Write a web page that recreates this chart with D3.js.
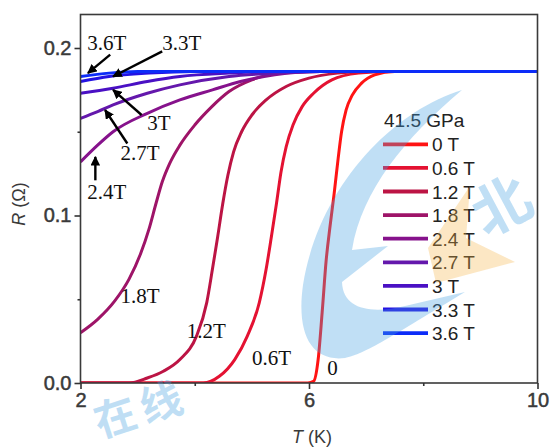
<!DOCTYPE html>
<html>
<head>
<meta charset="utf-8">
<script src="https://cdn.jsdelivr.net/npm/d3@7"></script>
<style>
  html, body { margin: 0; padding: 0; background: #fff; }
  svg { display: block; }
</style>
</head>
<body>
<svg id="chart" width="550" height="448"></svg>
<script>
// R(T) curves at 41.5 GPa for several magnetic fields: [T (K), R (Ω)]
const r0T = [[2,0],[5.98,0],[6.08,0.001],[6.16,0.014],[6.23,0.042],[6.30,0.073],[6.37,0.094],[6.44,0.113],[6.51,0.134],[6.57,0.150],[6.65,0.163],[6.76,0.172],[6.92,0.179],[7.15,0.184],[7.5,0.186],[8.05,0.186]];
const r06T = [[2,0],[4.15,0],[4.43,0.004],[4.70,0.014],[4.92,0.028],[5.13,0.048],[5.25,0.068],[5.34,0.087],[5.43,0.107],[5.51,0.126],[5.60,0.141],[5.72,0.154],[5.88,0.165],[6.08,0.173],[6.40,0.181],[6.87,0.185],[7.4,0.186],[8.05,0.186]];
const r12T = [[2,0],[2.85,0],[3.17,0.003],[3.45,0.007],[3.74,0.014],[4.03,0.028],[4.21,0.048],[4.31,0.068],[4.40,0.087],[4.49,0.107],[4.58,0.124],[4.68,0.138],[4.82,0.150],[5.0,0.160],[5.25,0.169],[5.6,0.177],[6.0,0.182],[6.5,0.185],[7.0,0.186],[8.05,0.186]];
const r18T = [[2,0.030],[2.3,0.038],[2.6,0.049],[2.85,0.062],[3.05,0.077],[3.2,0.092],[3.32,0.107],[3.43,0.120],[3.56,0.131],[3.74,0.142],[4.0,0.154],[4.3,0.165],[4.6,0.174],[5.0,0.181],[5.5,0.185],[6.2,0.186],[8.05,0.186]];
const r24T = [[2,0.132],[2.30,0.142],[2.57,0.150],[3.17,0.161],[3.74,0.169],[4.31,0.175],[4.8,0.180],[5.4,0.184],[6.2,0.186],[8.05,0.186]];
const r27T = [[2,0.158],[2.30,0.162],[2.57,0.166],[3.17,0.173],[3.74,0.178],[4.6,0.183],[5.4,0.185],[6.2,0.186],[8.05,0.186]];
const r3T = [[2,0.173],[2.57,0.176],[3.17,0.180],[3.74,0.183],[4.6,0.185],[5.4,0.186],[8.05,0.186]];
const r33T = [[2,0.180],[2.5,0.183],[3.2,0.185],[4.0,0.186],[10,0.186]];
const r36T = [[2,0.183],[2.5,0.185],[3.0,0.186],[10,0.186]];

const fieldLabels = ["0 T","0.6 T","1.2 T","1.8 T","2.4 T","2.7 T","3 T","3.3 T","3.6 T"];
const curveColors = ["#ff1414","#e41232","#bc1444","#9e1468","#86128c","#6418ac","#4a10c4","#2412e2","#0c2cf8"];
const legendTitle = "41.5 GPa";

const xTicks = [2, 6, 10];
const xMinorTicks = [4, 8];
const yTicks = [0.0, 0.1, 0.2];
const yMinorTicks = [0.05, 0.15];

// in-plot annotations: label, anchor [T, R]
const notes = [
  ["3.6T", [2.12, 0.199]], ["3.3T", [3.43, 0.199]], ["3T", [3.17, 0.151]],
  ["2.7T", [2.70, 0.133]], ["2.4T", [2.12, 0.110]], ["1.8T", [2.70, 0.048]],
  ["1.2T", [3.86, 0.027]], ["0.6T", [5.0, 0.011]], ["0", [6.32, 0.005]]
];
// arrows: from [T, R] to [T, R]
const arrows = [
  [[2.52, 0.196], [2.13, 0.185]],
  [[3.43, 0.198], [2.57, 0.183]],
  [[3.07, 0.160], [2.57, 0.175]],
  [[2.82, 0.143], [2.43, 0.163]],
  [[2.26, 0.121], [2.26, 0.135]]
];

const series = [r0T, r06T, r12T, r18T, r24T, r27T, r3T, r33T, r36T];

const svg = d3.select("#chart");
const m = { left: 80.5, right: 537.5, top: 14.5, bottom: 383 };

const x = d3.scaleLinear().domain([2, 10]).range([m.left, m.right]);
const y = d3.scaleLinear().domain([0, 0.22]).range([m.bottom, m.top]);

const defs = svg.append("defs");
defs.append("clipPath").attr("id", "clip")
  .append("rect").attr("x", m.left).attr("y", m.top)
  .attr("width", m.right - m.left).attr("height", m.bottom - m.top);
defs.append("marker")
  .attr("id", "head").attr("viewBox", "0 0 10 10")
  .attr("refX", 9).attr("refY", 5)
  .attr("markerWidth", 4).attr("markerHeight", 4)
  .attr("orient", "auto")
  .append("path").attr("d", "M0,0 L10,5 L0,10 Z").attr("fill", "#000");

const plot = svg.append("g");

const line = d3.line().x(d => x(d[0])).y(d => y(d[1])).curve(d3.curveMonotoneX);

plot.append("g").attr("clip-path", "url(#clip)")
  .selectAll("path").data(series).join("path")
  .attr("d", line)
  .attr("fill", "none")
  .attr("stroke", (d, i) => curveColors[i])
  .attr("stroke-width", 3)
  .attr("stroke-linejoin", "round");

// frame
plot.append("rect")
  .attr("x", m.left).attr("y", m.top)
  .attr("width", m.right - m.left).attr("height", m.bottom - m.top)
  .attr("fill", "none").attr("stroke", "#3a3a3a").attr("stroke-width", 1.6);

// axes
const axisColor = "#333";
const labelFont = "Liberation Sans, Arial, sans-serif";
const xAxis = d3.axisBottom(x).tickValues(xTicks).tickSize(6).tickPadding(4).tickFormat(d3.format("d"));
const gx = plot.append("g").attr("transform", `translate(0,${m.bottom})`).call(xAxis);
gx.select(".domain").remove();
gx.selectAll("line").attr("stroke", axisColor).attr("stroke-width", 1.6);
gx.selectAll("text").attr("font-family", labelFont)
  .attr("font-size", 20).attr("fill", "#3a3a3a").attr("stroke", "#3a3a3a").attr("stroke-width", 0.5);

const gxm = plot.append("g").attr("transform", `translate(0,${m.bottom})`)
  .call(d3.axisBottom(x).tickValues(xMinorTicks).tickSize(3).tickFormat(""));
gxm.select(".domain").remove();
gxm.selectAll("line").attr("stroke", axisColor).attr("stroke-width", 1.6);

const yAxis = d3.axisLeft(y).tickValues(yTicks).tickSize(6).tickPadding(3).tickFormat(d3.format(".1f"));
const gy = plot.append("g").attr("transform", `translate(${m.left},0)`).call(yAxis);
gy.select(".domain").remove();
gy.selectAll("line").attr("stroke", axisColor).attr("stroke-width", 1.6);
gy.selectAll("text").attr("font-family", labelFont)
  .attr("font-size", 20).attr("fill", "#3a3a3a").attr("stroke", "#3a3a3a").attr("stroke-width", 0.5);

const gym = plot.append("g").attr("transform", `translate(${m.left},0)`)
  .call(d3.axisLeft(y).tickValues(yMinorTicks).tickSize(3).tickFormat(""));
gym.select(".domain").remove();
gym.selectAll("line").attr("stroke", axisColor).attr("stroke-width", 1.6);

// axis titles
const yt = svg.append("text")
  .attr("transform", `translate(25,204) rotate(-90)`)
  .attr("text-anchor", "middle")
  .attr("font-family", labelFont)
  .attr("font-size", 18).attr("fill", "#3a3a3a");
yt.append("tspan").attr("font-style", "italic").text("R");
yt.append("tspan").text(" (Ω)");

const xt = svg.append("text")
  .attr("x", 312).attr("y", 443)
  .attr("text-anchor", "middle")
  .attr("font-family", labelFont)
  .attr("font-size", 18).attr("fill", "#3a3a3a");
xt.append("tspan").attr("font-style", "italic").text("T");
xt.append("tspan").text(" (K)");

// annotations
svg.append("g").selectAll("text").data(notes).join("text")
  .attr("x", d => x(d[1][0])).attr("y", d => y(d[1][1]))
  .attr("font-family", "Liberation Serif, 'Times New Roman', serif")
  .attr("font-size", 21).attr("fill", "#111")
  .text(d => d[0]);

svg.append("g").selectAll("line").data(arrows).join("line")
  .attr("x1", d => x(d[0][0])).attr("y1", d => y(d[0][1]))
  .attr("x2", d => x(d[1][0])).attr("y2", d => y(d[1][1]))
  .attr("stroke", "#000").attr("stroke-width", 2.4)
  .attr("marker-end", "url(#head)");

// legend
const lg = svg.append("g").attr("transform", "translate(383,0)");
lg.append("text").attr("x", 1).attr("y", 127)
  .attr("font-family", labelFont)
  .attr("font-size", 19).attr("fill", "#222").text(legendTitle);
const rows = lg.selectAll("g.row").data(fieldLabels).join("g")
  .attr("class", "row")
  .attr("transform", (d, i) => `translate(0,${144.3 + i * 23.6})`);
rows.append("line").attr("x1", 0).attr("x2", 45).attr("y1", 0).attr("y2", 0)
  .attr("stroke", (d, i) => curveColors[i]).attr("stroke-width", 3.8);
rows.append("text").attr("x", 49).attr("y", 7)
  .attr("font-family", labelFont)
  .attr("font-size", 19).attr("fill", "#222").text(d => d);

// site watermark overlay
const wm = svg.append("g").attr("pointer-events", "none");
wm.append("path")
  .attr("d", "M462,90 C390,112 318,190 303,285 C296,335 312,362 345,358 C365,354 392,336 465,292 L405,306 C372,314 343,310 342,282 L388,246 L352,250 C362,190 405,138 462,90 Z")
  .attr("fill", "rgba(70,160,225,0.34)");
wm.append("path")
  .attr("d", "M470,186 L428,248 L436,283 L515,262 L466,238 Z")
  .attr("fill", "rgba(245,180,70,0.32)");
wm.append("text").attr("transform", "translate(100,438) rotate(-18)")
  .attr("font-family", "Noto Sans CJK SC, sans-serif").attr("font-weight", "bold")
  .attr("font-size", 42).attr("letter-spacing", 6).attr("fill", "rgba(70,160,225,0.34)").text("在线");
wm.append("text").attr("transform", "translate(486,238) rotate(-28)")
  .attr("font-family", "Noto Sans CJK SC, sans-serif").attr("font-weight", "bold")
  .attr("font-size", 58).attr("fill", "rgba(70,160,225,0.34)").text("北");
</script>
</body>
</html>
